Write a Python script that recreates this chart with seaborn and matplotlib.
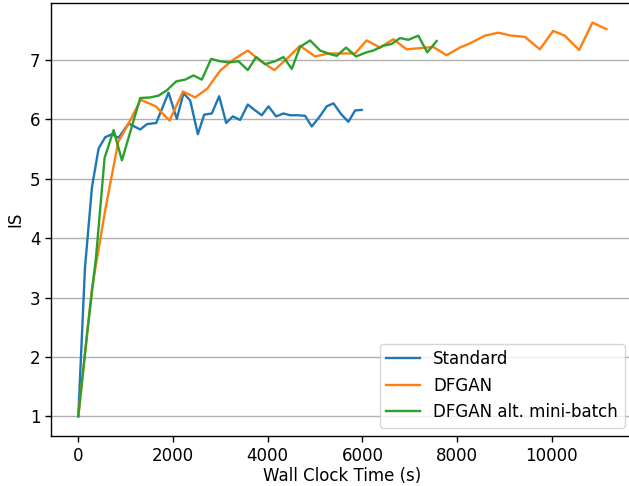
import matplotlib
matplotlib.use("Agg")
import matplotlib.pyplot as plt
import seaborn as sns
import pandas as pd

std_x = [0, 141, 289, 429, 569, 710, 851, 1062, 1308, 1449, 1646, 1906, 2081, 2222, 2363,
         2525, 2658, 2820, 2975, 3123, 3263, 3418, 3580, 3721, 3875, 4016, 4178, 4332, 4473,
         4627, 4790, 4930, 5091, 5247, 5388, 5549, 5704, 5845, 5985]
std_y = [1.0, 3.5, 4.86, 5.51, 5.70, 5.75, 5.69, 5.93, 5.83, 5.92, 5.94, 6.45, 6.01, 6.44, 6.32,
         5.75, 6.08, 6.10, 6.39, 5.94, 6.05, 5.99, 6.25, 6.16, 6.07, 6.22, 6.05, 6.10, 6.07,
         6.07, 6.06, 5.88, 6.04, 6.22, 6.27, 6.09, 5.96, 6.15, 6.16]

df_x = [0, 288, 575, 843, 1061, 1319, 1636, 1927, 2211, 2469, 2727, 2995, 3262, 3580, 3838,
        4142, 4403, 4683, 5001, 5281, 5553, 5845, 6090, 6372, 6653, 6934, 7216, 7497, 7778,
        8060, 8270, 8587, 8868, 9149, 9431, 9747, 10028, 10275, 10577, 10858, 11154]
df_y = [1.0, 3.15, 4.5, 5.62, 5.93, 6.33, 6.22, 5.98, 6.47, 6.37, 6.52, 6.82, 7.0, 7.16, 6.99,
        6.83, 7.02, 7.24, 7.06, 7.11, 7.11, 7.11, 7.33, 7.21, 7.35, 7.18, 7.20, 7.22, 7.08,
        7.21, 7.28, 7.41, 7.46, 7.41, 7.39, 7.18, 7.49, 7.41, 7.17, 7.63, 7.52]

alt_x = [0, 188, 377, 555, 746, 921, 1308, 1520, 1695, 1871, 2067, 2258, 2432, 2609, 2806,
         2982, 3172, 3382, 3580, 3755, 3946, 4156, 4332, 4509, 4683, 4895, 5106, 5317, 5458,
         5655, 5866, 6090, 6231, 6442, 6618, 6794, 6969, 7180, 7370, 7568]
alt_y = [1.0, 2.4, 3.7, 5.35, 5.82, 5.31, 6.36, 6.37, 6.40, 6.49, 6.64, 6.67, 6.74, 6.67, 7.02,
         6.98, 6.96, 6.98, 6.83, 7.05, 6.93, 6.98, 7.05, 6.85, 7.22, 7.33, 7.16, 7.10, 7.07,
         7.21, 7.06, 7.13, 7.16, 7.24, 7.27, 7.37, 7.34, 7.41, 7.13, 7.32]

series = [("Standard", std_x, std_y, "#1f77b4"),
          ("DFGAN", df_x, df_y, "#ff7f0e"),
          ("DFGAN alt. mini-batch", alt_x, alt_y, "#2ca02c")]

plt.rcParams.update({
    "font.size": 12,
    "axes.linewidth": 1.0,
    "xtick.major.size": 4.2,
    "ytick.major.size": 4.2,
    "xtick.major.width": 1.0,
    "ytick.major.width": 1.0,
})

fig = plt.figure(figsize=(6.29, 4.86), dpi=100)
ax = fig.add_axes([0.0811, 0.1029, 0.925, 0.8909])
for name, xs, ys, c in series:
    d = pd.DataFrame({"x": xs, "y": ys})
    sns.lineplot(data=d, x="x", y="y", ax=ax, color=c, label=name, linewidth=1.7)

ax.set_xlim(-576, 11711)
ax.set_ylim(0.668, 7.96)
ax.set_xticks([0, 2000, 4000, 6000, 8000, 10000])
ax.set_yticks([1, 2, 3, 4, 5, 6, 7])
ax.grid(axis="y", color="#b0b0b0", linewidth=1.0)
ax.set_axisbelow(True)
ax.set_xlabel("Wall Clock Time (s)", fontsize=12, labelpad=2)
ax.set_ylabel("IS", fontsize=12)
ax.tick_params(labelsize=12)
ax.legend(loc="lower right", fontsize=12)
fig.savefig("out.png", dpi=100)
